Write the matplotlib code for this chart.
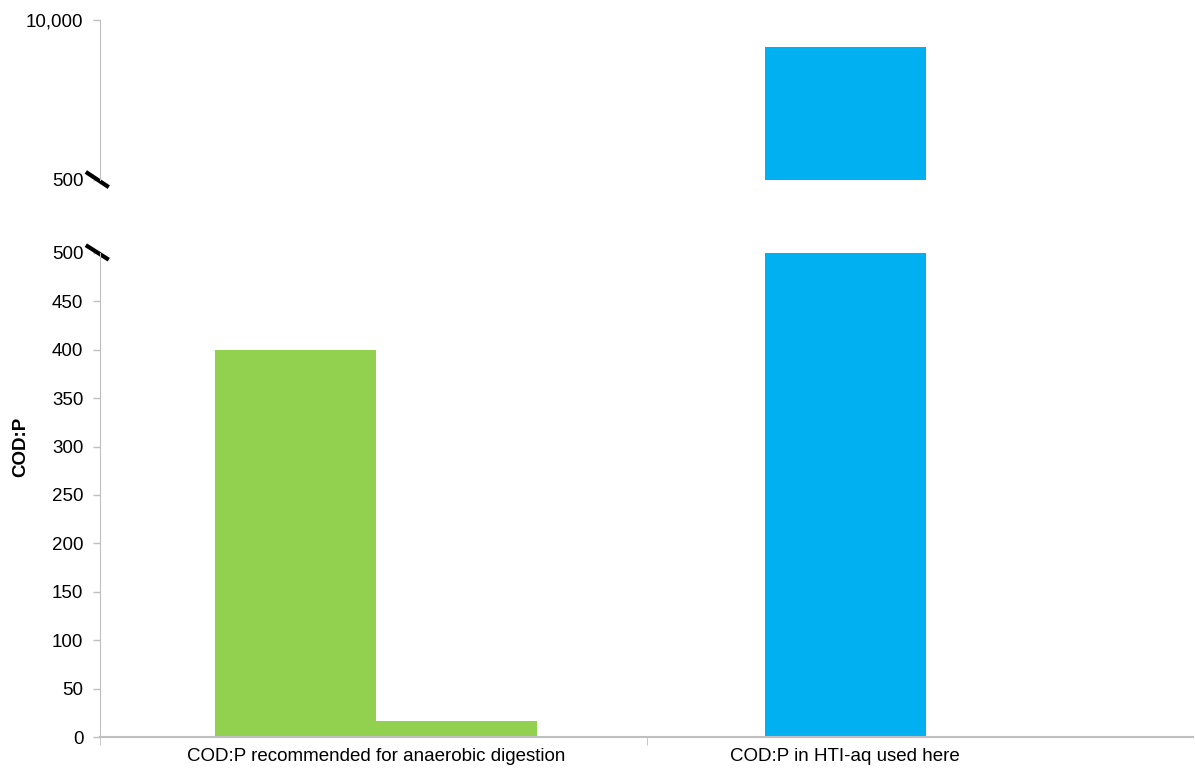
import matplotlib.pyplot as plt
import numpy as np

plt.rcParams['font.family'] = ['Liberation Sans', 'DejaVu Sans']

categories = ['COD:P recommended for anaerobic digestion', 'COD:P in HTI-aq used here']
series_a = [400, 8400]   # first bar in each category
series_b = [17, 0]       # second bar in each category
colors_a = ['#92D050', '#00B0F0']
colors_b = ['#92D050', '#92D050']

low_ticks = list(range(0, 501, 50))
high_ticks = [500, 10000]
high_tick_labels = ['500', '10,000']

grey = '#BFBFBF'
fs = 13.5

fig = plt.figure(figsize=(11.95, 7.69), dpi=100)
ax_hi = fig.add_axes([0.0837, 0.766, 0.915, 0.208])
ax_lo = fig.add_axes([0.0837, 0.0416, 0.915, 0.6295])

centers = np.array([0.005, 1.01])
width = 0.295
offset = 0.147

for ax in (ax_hi, ax_lo):
    ax.bar(centers - offset, series_a, width, color=colors_a)
    ax.bar(centers + offset, series_b, width, color=colors_b)
    ax.set_xlim(-0.5, 1.5)
    for s in ('top', 'right'):
        ax.spines[s].set_visible(False)
    ax.spines['left'].set_color(grey)
    ax.spines['bottom'].set_color(grey)
    ax.tick_params(axis='both', colors=grey, labelcolor='black', labelsize=fs,
                   length=5, width=1)
    ax.tick_params(axis='y', pad=7)

ax_lo.set_ylim(0, 500)
ax_lo.set_yticks(low_ticks)
ax_lo.set_xticks([-0.5, 0.5], minor=True)
# label under the green pair, and under the blue bar
ax_lo.set_xticks([centers[0], centers[1] - offset])
ax_lo.set_xticklabels(categories)
ax_lo.tick_params(axis='x', which='major', length=0, pad=8)
ax_lo.tick_params(axis='x', which='minor', length=6, colors=grey)
ax_lo.spines['bottom'].set_linewidth(1.5)
ax_lo.set_ylabel('COD:P', fontsize=fs, fontweight='bold')
ax_lo.yaxis.set_label_coords(-0.065, 0.60)

ax_hi.set_ylim(500, 10000)
ax_hi.set_yticks(high_ticks)
ax_hi.set_yticklabels(high_tick_labels)
ax_hi.spines['bottom'].set_visible(False)
ax_hi.set_xticks([])

# break marks on the y axis
for ax, yb in ((ax_hi, 0.0), (ax_lo, 1.0)):
    ax.plot([-0.013, 0.008], [yb + (0.05 if ax is ax_hi else 0.016),
                              yb - (0.045 if ax is ax_hi else 0.014)],
            transform=ax.transAxes, color='black', lw=3, clip_on=False,
            solid_capstyle='butt')

fig.savefig('out.png', dpi=100)
